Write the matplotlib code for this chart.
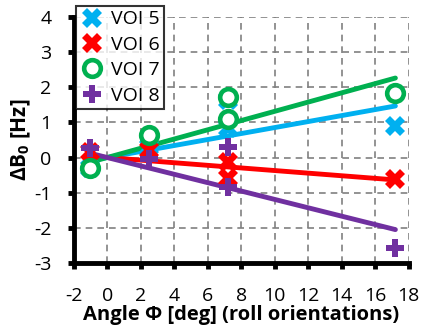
import numpy as np
import matplotlib.pyplot as plt

plt.rcParams['font.family'] = ['Open Sans', 'DejaVu Sans']
plt.rcParams['axes.unicode_minus'] = False
plt.rcParams['mathtext.fontset'] = 'custom'
plt.rcParams['mathtext.rm'] = 'Open Sans:bold'
plt.rcParams['mathtext.bf'] = 'Open Sans:bold'

# roll angles (deg) and dB0 (Hz) per VOI
angle = [-1, 2.5, 7.2, 7.2, 17.2]
voi5 = [-0.3, 0.3, 1.65, 0.85, 0.91]
voi6 = [0.15, 0.2, -0.14, -0.57, -0.6]
voi7 = [-0.3, 0.63, 1.71, 1.09, 1.83]
voi8 = [0.28, -0.03, 0.3, -0.85, -2.57]

labels = ['VOI 5', 'VOI 6', 'VOI 7', 'VOI 8']
colors = ['#00B0F0', '#FF0000', '#00B050', '#7030A0']

fig = plt.figure(figsize=(4.21, 3.27), dpi=100)
ax = fig.add_axes([0.175, 0.196, 0.796, 0.752])

x = np.array(angle)
xs = np.array([x.min(), x.max()])
for y, c in zip([voi5, voi6, voi7, voi8], colors):
    y = np.array(y)
    k = (x * y).sum() / (x * x).sum()   # fit through origin
    ax.plot(xs, k * xs, color=c, lw=3.5, solid_capstyle='round', zorder=3)

ax.plot(angle, voi5, 'X', color=colors[0], ms=15, mew=0, ls='none', label=labels[0], zorder=4)
ax.plot(angle, voi6, 'X', color=colors[1], ms=15, mew=0, ls='none', label=labels[1], zorder=4)
ax.plot(angle, voi8, 'P', color=colors[3], ms=13, mew=0, ls='none', label=labels[3], zorder=4)
ax.plot(angle, voi7, 'o', color=colors[2], mfc='white', ms=12, mew=3.3, ls='none', label=labels[2], zorder=5)

ax.set_xlim(-2, 18)
ax.set_ylim(-3, 4)
ax.set_xticks(range(-2, 19, 2))
ax.set_yticks(range(-3, 5))
ax.grid(True, ls=(0, (4, 3)), color='#808080', lw=1.2)
ax.set_axisbelow(True)

for s in ['top', 'right']:
    ax.spines[s].set_visible(False)
for s in ['left', 'bottom']:
    ax.spines[s].set_linewidth(3.5)
ax.tick_params(length=4, width=3.5, labelsize=14)
ax.tick_params(axis='x', pad=13)
ax.tick_params(axis='y', pad=12)

ax.set_xlabel('Angle \u03a6 [deg] (roll orientations)', fontsize=14.5, fontweight='bold', labelpad=0)
ax.set_ylabel('\u0394B$_0$ [Hz]', fontsize=15, fontweight='bold', labelpad=1)

h, l = ax.get_legend_handles_labels()
order = [0, 1, 3, 2]
leg = fig.legend([h[i] for i in order], [l[i] for i in order], loc='upper left',
                 bbox_to_anchor=(0.18, 0.983), fontsize=14, frameon=True, fancybox=False,
                 borderpad=0.25, handletextpad=0.35, labelspacing=0.38, handlelength=1.2,
                 borderaxespad=0)
leg.get_frame().set_edgecolor('black')
leg.get_frame().set_linewidth(1.5)
leg.set_zorder(10)

fig.savefig('out.png', dpi=100)
